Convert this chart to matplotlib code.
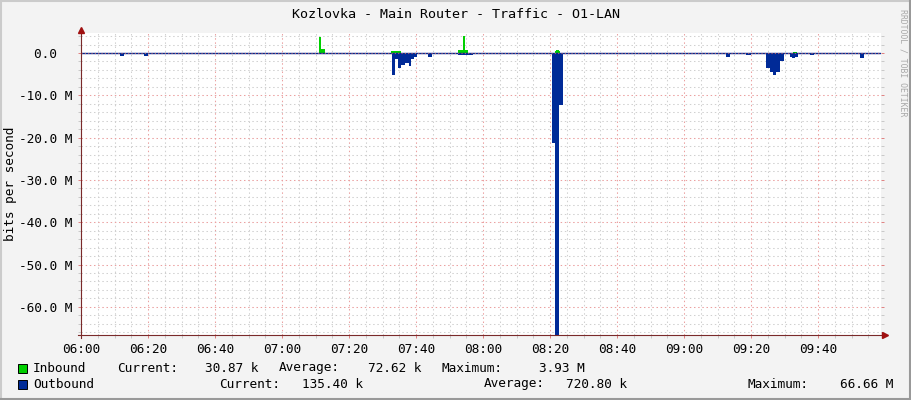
import matplotlib
matplotlib.use("Agg")
import matplotlib.pyplot as plt
import numpy as np
from matplotlib.lines import Line2D
from matplotlib.patches import Rectangle

# ---------------- data ----------------
title = "Kozlovka - Main Router - Traffic - O1-LAN"
x_tick_minutes = [0, 20, 40, 60, 80, 100, 120, 140, 160, 180, 200, 220]
x_tick_labels = ["06:00", "06:20", "06:40", "07:00", "07:20", "07:40",
                 "08:00", "08:20", "08:40", "09:00", "09:20", "09:40"]
y_tick_values = [0, -10, -20, -30, -40, -50, -60]
y_tick_labels = ["0.0  ", "-10.0 M", "-20.0 M", "-30.0 M", "-40.0 M",
                 "-50.0 M", "-60.0 M"]

# minutes after 06:00 (left edge of each step) and value in Mbit/s
in_t = [0, 70.9, 71.7, 72.7, 92.5, 95.5, 112.5, 113.9, 114.6, 115.5,
        141.4, 141.9, 142.7, 143.0, 212.6, 213.6, 238.8]
in_v = [0, 3.85, 0.95, 0, 0.5, 0, 0.7, 3.93, 0.7, 0,
        0.4, 0.7, 0.4, 0, 0.25, 0, 0]

out_t = [0, 11.6, 12.9, 18.8, 19.9, 92.7, 93.7, 94.5, 95.5, 96.7, 97.9,
         98.5, 99.5, 100.2, 103.6, 104.8, 112.6, 113.8, 115.3, 116.9,
         140.6, 141.5, 142.8, 143.8, 162.8, 163.6, 192.5, 193.7, 195.0,
         198.5, 199.9, 204.5, 205.8, 206.7, 207.6, 208.6, 209.8, 210.3,
         211.6, 212.3, 213.2, 213.9, 217.6, 218.8, 232.5, 233.7, 234.7, 238.8]
out_v = [0, 0.7, 0, 0.7, 0, 5.2, 1.5, 3.6, 2.8, 2.4, 3.1,
         1.5, 0.9, 0, 0.9, 0, 0.4, 0.55, 0.4, 0,
         21.3, 66.66, 12.3, 0, 0.2, 0, 0.9, 0.3, 0,
         0.4, 0, 3.6, 4.4, 5.3, 4.4, 1.8, 0.3, 0,
         0.9, 1.1, 0.9, 0, 0.4, 0, 1.1, 0.3, 0, 0]

legend_rows = [
    ("Inbound", "#00CF00",
     [("Current:", 117), ("30.87 k", 258), ("Average:", 279), ("72.62 k", 421),
      ("Maximum:", 442), ("3.93 M", 585)]),
    ("Outbound", "#002A97",
     [("Current:", 219), ("135.40 k", 363), ("Average:", 484), ("720.80 k", 627),
      ("Maximum:", 748), ("66.66 M", 893)]),
]

# ---------------- style ----------------
FONT = "DejaVu Sans Mono"
plt.rcParams["font.family"] = [FONT]
FS = 9.2
W, H = 911, 400
L, R, T, B = 81, 881, 33, 335

fig = plt.figure(figsize=(W / 100, H / 100), dpi=100, facecolor="#F3F3F3")
ax = fig.add_axes([L / W, 1 - B / H, (R - L) / W, (B - T) / H])
ax.set_facecolor("white")
ax.set_xlim(0, 238.8)
ax.set_ylim(-66.66, 4.72)

# grid
ax.set_xticks(x_tick_minutes)
ax.set_xticklabels(x_tick_labels, fontsize=FS)
ax.set_xticks(np.arange(0, 239, 5), minor=True)
ax.set_yticks(y_tick_values)
ax.set_yticklabels(y_tick_labels, fontsize=FS)
ax.set_yticks(np.arange(4, -67, -2), minor=True)
dots = (0, (1.4, 2.6))
ax.grid(which="minor", color="#D0D0D0", linestyle=dots, linewidth=0.75)
ax.grid(which="major", color="#EBA0A0", linestyle=dots, linewidth=0.75)
ax.set_axisbelow(True)
ax.tick_params(which="both", direction="out", length=2, width=0.7,
               color="#C8C8C8", pad=5)
ax.tick_params(axis="x", which="major", color="#E08080", pad=4)
ax.tick_params(axis="y", which="major", color="#E08080", pad=4.5)
ax.tick_params(axis="y", which="both", right=True)
for s in ax.spines.values():
    s.set_visible(False)

# data
ti = np.array(in_t)
vi = np.array(in_v)
to = np.array(out_t)
vo = -np.array(out_v)
ax.fill_between(ti, 0, vi, step="post", color="#00CF00", lw=0, zorder=2)
ax.fill_between(to, 0, vo, step="post", color="#002A97", lw=0, zorder=2)
ax.axhline(0, color="#002A97", lw=1.0, zorder=3)
ax.axhline(0, color="#C06060", lw=0.8, linestyle=(0, (1, 2)), zorder=3.5)

# axes lines with arrows (figure pixel coords)
def fx(x):
    return x / W

def fy(y):
    return 1 - y / H

axis_col = "#7A2A2A"
fig.add_artist(Line2D([fx(81), fx(81)], [fy(338), fy(31)], color=axis_col, lw=0.8))
fig.add_artist(Line2D([fx(78), fx(884)], [fy(335), fy(335)], color=axis_col, lw=0.8))
fig.add_artist(Line2D([fx(81)], [fy(30)], marker="^", markersize=4.5,
                      color="#A01010", lw=0))
fig.add_artist(Line2D([fx(885)], [fy(335)], marker=">", markersize=4.5,
                      color="#A01010", lw=0))

# title
fig.text(fx(456), fy(15), title, ha="center", va="center", fontsize=9.6)
# y label
fig.text(fx(11), fy(184), "bits per second", rotation=90, ha="center",
         va="center", fontsize=FS)
# watermark
fig.text(fx(903), fy(9), "RRDTOOL / TOBI OETIKER", rotation=270, ha="center",
         va="top", fontsize=5.9, color="#A8A8A8")

# legend
row_y = [368, 384]
for (name, col, items), yy in zip(legend_rows, row_y):
    fig.add_artist(Rectangle((fx(18), fy(yy + 5)), 9 / W, 9 / H,
                             facecolor=col, edgecolor="black", lw=0.7))
    fig.text(fx(33), fy(yy), name, ha="left", va="center", fontsize=FS)
    for i, (txt, xx) in enumerate(items):
        ha = "left" if i % 2 == 0 else "right"
        fig.text(fx(xx), fy(yy), txt, ha=ha, va="center", fontsize=FS)

# frame shading
fig.add_artist(Line2D([0, 1], [fy(0.5), fy(0.5)], color="#CBCBCB", lw=1.5))
fig.add_artist(Line2D([fx(0.5), fx(0.5)], [0, 1], color="#CBCBCB", lw=1.5))
fig.add_artist(Line2D([0, 1], [fy(399), fy(399)], color="#999999", lw=1.5))
fig.add_artist(Line2D([fx(910), fx(910)], [0, 1], color="#999999", lw=1.5))

fig.savefig("out.png", dpi=100, facecolor=fig.get_facecolor())
